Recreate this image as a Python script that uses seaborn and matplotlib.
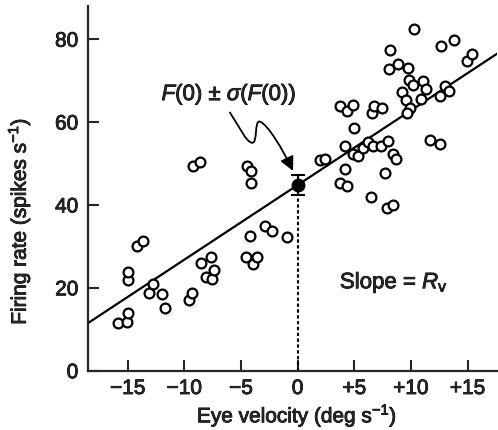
import numpy as np
import seaborn as sns
import matplotlib.pyplot as plt
import matplotlib.patheffects as pe
from matplotlib.path import Path
from matplotlib.patches import FancyArrowPatch

# eye velocity (deg/s) and firing rate (spikes/s)
eye_vel = [-15.83, -15.09, -15.00, -15.00, -14.95, -14.16, -13.63, -13.10, -12.74, -11.98,
           -11.69, -9.57, -9.36, -8.51, -8.12, -7.68, -7.54, -7.36,
           -4.59, -4.21, -3.92, -3.62, -2.86, -2.24, -0.97, -4.15, -9.27, -8.62, -4.50, -4.12,
           1.97, 2.41, 3.73, 4.32, 4.17, 4.17, 5.00, 3.73, 4.38, 4.91,
           4.85, 5.35, 5.79, 6.23, 6.67, 6.53, 6.73, 7.41, 7.33, 7.94,
           7.71, 8.38, 8.68, 6.50, 7.91, 8.38, 8.15, 8.06, 8.83, 9.76,
           9.85, 10.20, 9.18, 9.53, 9.91, 9.67, 10.26, 11.09, 11.32, 10.86,
           11.68, 12.56, 12.65, 13.82, 12.56, 13.00, 13.35, 14.97, 15.41]
firing = [11.6, 11.8, 14.0, 21.9, 23.9, 30.0, 31.3, 18.7, 20.9, 18.5,
          15.2, 17.1, 18.7, 26.1, 22.5, 27.5, 22.1, 24.3,
          27.4, 32.5, 25.7, 27.5, 34.8, 33.8, 32.2, 45.3, 49.5, 50.3, 49.3, 48.2,
          50.9, 51.1, 45.4, 44.6, 48.6, 54.1, 58.6, 63.8, 62.6, 64.0,
          52.3, 51.7, 53.7, 55.3, 54.1, 62.2, 63.8, 63.4, 54.3, 55.5,
          47.8, 52.3, 51.1, 41.9, 39.2, 39.9, 77.3, 72.8, 74.0, 73.0,
          70.2, 69.0, 67.2, 65.4, 63.4, 62.2, 82.5, 69.8, 68.0, 65.6,
          55.6, 54.7, 78.3, 79.7, 66.4, 68.8, 67.4, 74.8, 76.5]

F0 = 44.8        # intercept F(0)
F0_sd = 2.5      # sigma(F(0))
slope = 1.80     # R_v

x_ticks = [-15, -10, -5, 0, 5, 10, 15]
x_ticklabels = ['\u221215', '\u221210', '\u22125', '0', '+5', '+10', '+15']
y_ticks = [0, 20, 40, 60, 80]

sns.set_style('ticks')
plt.rcParams['font.family'] = ['Liberation Sans', 'DejaVu Sans']
plt.rcParams['mathtext.fontset'] = 'custom'
plt.rcParams['mathtext.rm'] = 'Liberation Sans'
plt.rcParams['mathtext.it'] = 'Liberation Sans:italic'

# scanned figure text looks heavier than the regular weight
thick = [pe.withStroke(linewidth=0.6, foreground='black')]

fig = plt.figure(figsize=(4.98, 4.30), dpi=100)
ax = fig.add_axes([0.177, 0.138, 0.821, 0.848])
xlim = (-18.5, 17.6)
ax.set_xlim(*xlim)
ax.set_ylim(0, 88)

# regression line
line_x = np.array(xlim)
sns.lineplot(x=line_x, y=F0 + slope * line_x, color='black', linewidth=1.6, ax=ax)

# data points
sns.scatterplot(x=eye_vel, y=firing, facecolor='white', edgecolor='black',
                s=50, linewidth=1.6, ax=ax, zorder=3)

# F(0) with error bar and dotted drop line
ax.vlines(0, 0, F0 - F0_sd, colors='black', linestyles=(0, (1.6, 1.2)), linewidth=1.5)
ax.errorbar([0], [F0], yerr=[F0_sd], fmt='o', color='black', markersize=9,
            capsize=5, elinewidth=1.5, capthick=1.5, zorder=4)

# annotation with a squiggly arrow
ax.text(-6.06, 66.6, r'$F$(0) $\pm$ $\sigma$($F$(0))', fontsize=16,
        ha='center', va='center', path_effects=thick)
verts = [(-5.98, 62.3), (-5.09, 58.6), (-4.56, 55.2), (-4.03, 55.0),
         (-3.50, 54.8), (-3.86, 60.6), (-3.33, 60.1),
         (-2.62, 59.4), (-1.30, 53.3), (-0.41, 48.2)]
codes = [Path.MOVETO] + [Path.CURVE4] * 9
arrow = FancyArrowPatch(path=Path(verts, codes), arrowstyle='-|>,head_length=0.6,head_width=0.3',
                        mutation_scale=14, color='black', linewidth=1.3)
ax.add_patch(arrow)

ax.text(3.73, 21.2, r'Slope = $R_{\mathrm{v}}$', fontsize=16, ha='left', va='center',
        path_effects=thick)

ax.set_xticks(x_ticks)
ax.set_xticklabels(x_ticklabels)
ax.set_yticks(y_ticks)
ax.tick_params(direction='in', length=8, width=1.5, labelsize=15)
ax.tick_params(axis='x', pad=6)
ax.tick_params(axis='y', pad=7)
for lab in ax.get_xticklabels() + ax.get_yticklabels():
    lab.set_path_effects(thick)
for s in ['left', 'bottom']:
    ax.spines[s].set_linewidth(1.6)
sns.despine(ax=ax)

ax.set_xlabel(r'Eye velocity (deg s$^{-1}$)', fontsize=15, path_effects=thick)
ax.set_ylabel(r'Firing rate (spikes s$^{-1}$)', fontsize=15, path_effects=thick)
ax.xaxis.set_label_coords(0.511, -0.088)
ax.yaxis.set_label_coords(-0.137, 0.41)

fig.savefig('out.png', dpi=100)
